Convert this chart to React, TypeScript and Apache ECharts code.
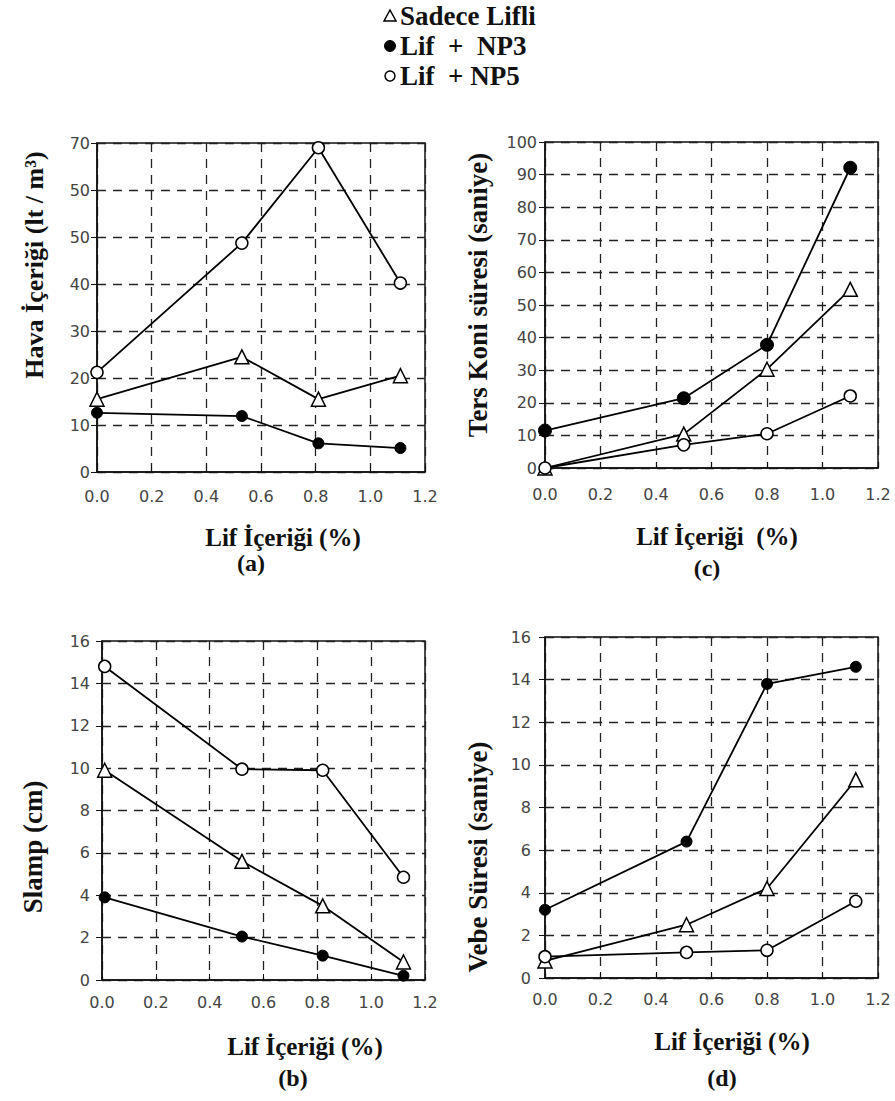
import React, { useEffect, useRef } from "react";
import * as echarts from "echarts";

// ---- Data ----
const seriesNames = ["Sadece Lifli", "Lif  +  NP3", "Lif  + NP5"];
const xTicks = [0, 0.2, 0.4, 0.6, 0.8, 1.0, 1.2];

// (a) Hava İçeriği (lt/m3)
const xA = [0, 0.53, 0.81, 1.11];
const aSadece = [15.5, 24.5, 15.5, 20.5];
const aNP3 = [12.6, 11.9, 6.1, 5.1];
const aNP5 = [21.2, 48.7, 69, 40.2];
const yTicksA = ["0", "10", "20", "30", "40", "50", "50", "70"];

// (c) Ters Koni süresi (saniye)
const xC = [0, 0.5, 0.8, 1.1];
const cSadece = [0, 10.4, 30.3, 54.8];
const cNP3 = [11.5, 21.4, 37.8, 92.1];
const cNP5 = [0, 7.1, 10.5, 22.1];

// (b) Slamp (cm)
const xB = [0.01, 0.52, 0.82, 1.12];
const bSadece = [9.9, 5.6, 3.5, 0.85];
const bNP3 = [3.9, 2.05, 1.15, 0.2];
const bNP5 = [14.8, 9.95, 9.9, 4.85];

// (d) Vebe Süresi (saniye)
const xD = [0, 0.51, 0.8, 1.12];
const dSadece = [0.8, 2.5, 4.2, 9.3];
const dNP3 = [3.2, 6.4, 13.8, 14.6];
const dNP5 = [1.0, 1.2, 1.3, 3.6];

const pair = (xs: number[], ys: number[]) => xs.map((x, i) => [x, ys[i]]);

export default function App() {
  const ref = useRef<HTMLDivElement>(null);
  useEffect(() => {
    if (!ref.current) return;
    const chart = echarts.init(ref.current, undefined, { renderer: "svg" });

    const grids = [
      { left: 97, top: 143, width: 328, height: 329, show: true, borderColor: "#111", borderWidth: 1.5, backgroundColor: "transparent" },
      { left: 545, top: 142, width: 333, height: 326, show: true, borderColor: "#111", borderWidth: 1.5, backgroundColor: "transparent" },
      { left: 102, top: 641, width: 323, height: 339, show: true, borderColor: "#111", borderWidth: 1.5, backgroundColor: "transparent" },
      { left: 545, top: 637, width: 333, height: 341, show: true, borderColor: "#111", borderWidth: 1.5, backgroundColor: "transparent" },
    ];
    const xMargins = [16, 18, 14, 13];
    const yMargins = [7, 8, 12, 14];
    const yRanges = [
      { max: 70, interval: 10 },
      { max: 100, interval: 10 },
      { max: 16, interval: 2 },
      { max: 16, interval: 2 },
    ];
    const tickLabel = { color: "#444", fontSize: 16, fontFamily: "DejaVu Sans" };
    const splitLine = { show: true, lineStyle: { color: "#222", width: 1.3, type: [9, 7] as any } };

    const xAxis = grids.map((_, i) => ({
      type: "value",
      gridIndex: i,
      min: xTicks[0],
      max: xTicks[xTicks.length - 1],
      interval: xTicks[1] - xTicks[0],
      axisLine: { show: true, lineStyle: { color: "#111", width: 1.5 } },
      axisTick: { show: true, inside: true, length: 6, lineStyle: { color: "#111" } },
      axisLabel: { ...tickLabel, margin: xMargins[i], formatter: (v: number) => v.toFixed(1), showMinLabel: true, showMaxLabel: true },
      splitLine,
    }));
    const yAxis = grids.map((_, i) => ({
      type: "value",
      gridIndex: i,
      min: 0,
      max: yRanges[i].max,
      interval: yRanges[i].interval,
      axisLine: { show: true, lineStyle: { color: "#111", width: 1.5 } },
      axisTick: { show: true, inside: false, length: 6, lineStyle: { color: "#111" } },
      axisLabel: {
        ...tickLabel,
        margin: yMargins[i],
        formatter: (v: number) => (i === 0 ? yTicksA[Math.round(v / 10)] : String(v)),
      },
      splitLine,
    }));

    const triStyle = { color: "#fff", borderColor: "#000", borderWidth: 1.5 };
    const openStyle = { color: "#fff", borderColor: "#000", borderWidth: 1.5 };
    const fillStyle = { color: "#000", borderColor: "#000", borderWidth: 1 };

    const mk = (idx: number, xs: number[], ys: number[], kind: number) => ({
      type: "line",
      name: seriesNames[kind],
      xAxisIndex: idx,
      yAxisIndex: idx,
      data: pair(xs, ys),
      symbol: kind === 0 ? "triangle" : "circle",
      symbolSize: kind === 0 ? 14 : kind === 1 ? (idx === 1 ? 13 : 11) : 12,
      showAllSymbol: true,
      lineStyle: { color: "#000", width: 1.8 },
      itemStyle: kind === 0 ? triStyle : kind === 1 ? fillStyle : openStyle,
      z: 3,
    });

    const series = [
      mk(0, xA, aSadece, 0), mk(0, xA, aNP3, 1), mk(0, xA, aNP5, 2),
      mk(1, xC, cSadece, 0), mk(1, xC, cNP3, 1), mk(1, xC, cNP5, 2),
      mk(2, xB, bSadece, 0), mk(2, xB, bNP3, 1), mk(2, xB, bNP5, 2),
      mk(3, xD, dSadece, 0), mk(3, xD, dNP3, 1), mk(3, xD, dNP5, 2),
    ];

    const serif = "Liberation Serif";
    const textStyle = (text: string, size: number, align = "center") => ({
      text, fontFamily: serif, fontWeight: "bold", fontSize: size, fill: "#111", align, verticalAlign: "middle",
    });
    const hText = (x: number, y: number, text: string, size: number) => ({
      type: "text", x, y, style: textStyle(text, size),
    });
    const vText = (x: number, y: number, text: string, size: number) => ({
      type: "text", x, y, rotation: Math.PI / 2, style: textStyle(text, size),
    });

    // legend drawn as graphic
    const legendRows = [16, 46, 76];
    const legendGraphic: any[] = [
      {
        type: "polygon",
        shape: { points: [[390, legendRows[0] - 6], [396, legendRows[0] + 5], [384, legendRows[0] + 5]] },
        style: { fill: "#fff", stroke: "#000", lineWidth: 1.5 },
      },
      { type: "circle", shape: { cx: 390, cy: legendRows[1], r: 5.5 }, style: { fill: "#000", stroke: "#000", lineWidth: 1 } },
      { type: "circle", shape: { cx: 390, cy: legendRows[2], r: 5 }, style: { fill: "#fff", stroke: "#000", lineWidth: 1.5 } },
      ...seriesNames.map((n, i) => ({ type: "text", x: 400, y: legendRows[i], style: textStyle(n, 27, "left") })),
    ];

    chart.setOption({
      animation: false,
      backgroundColor: "#fff",
      grid: grids,
      xAxis,
      yAxis,
      series,
      graphic: [
        ...legendGraphic,
        vText(34, 265, "Hava İçeriği (lt / m³)", 26),
        hText(283, 537, "Lif İçeriği (%)", 25),
        hText(251, 563, "(a)", 24),
        vText(478, 295, "Ters Koni süresi (saniye)", 27),
        hText(717, 536, "Lif İçeriği  (%)", 25),
        hText(707, 568, "(c)", 24),
        vText(33, 847, "Slamp (cm)", 27),
        hText(305, 1046, "Lif İçeriği (%)", 25),
        hText(293, 1078, "(b)", 24),
        vText(478, 857, "Vebe Süresi (saniye)", 27),
        hText(732, 1041, "Lif İçeriği (%)", 25),
        hText(722, 1078, "(d)", 24),
      ],
    });
    return () => chart.dispose();
  }, []);
  return (
    <div
      ref={ref}
      style={{ position: "absolute", left: 0, top: 0, width: 895, height: 1101, background: "#fff" }}
    />
  );
}
